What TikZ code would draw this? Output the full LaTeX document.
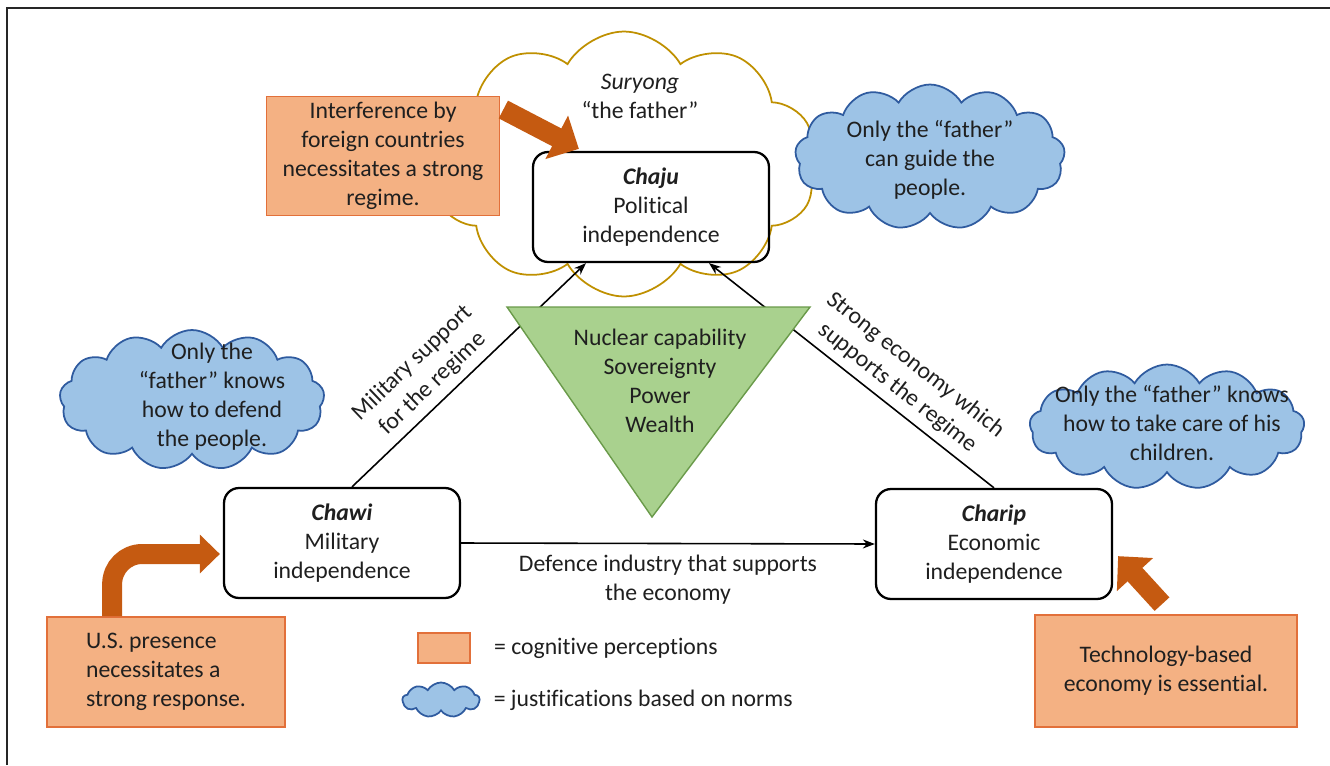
\documentclass[tikz,border=0pt]{standalone}
\usepackage{fontspec}
\setmainfont{Carlito}[Ligatures=NoCommon]
\usepackage{xcolor}
\usetikzlibrary{shapes.symbols, arrows.meta, positioning, calc}
\definecolor{percfill}{HTML}{F4B183}
\definecolor{percdraw}{HTML}{E2703A}
\definecolor{percarrow}{HTML}{C55A11}
\definecolor{normfill}{HTML}{9DC3E6}
\definecolor{normdraw}{HTML}{2F5B9F}
\definecolor{fathergold}{HTML}{BF9000}
\definecolor{corefill}{HTML}{A9D18E}
\definecolor{coredraw}{HTML}{6A9A4A}
\definecolor{ink}{HTML}{1F1F1F}
\newcommand{\diagfont}{\fontsize{13.5}{16.5}\selectfont}
\tikzset{
  indep/.style={rectangle, draw, line width=1.3pt, rounded corners=0.3cm,
                minimum width=4.72cm, minimum height=2.2cm, align=center,
                text=ink, font=\diagfont},
  percbox/.style={rectangle, draw=percdraw, line width=1pt, fill=percfill,
                  align=center, text=ink, font=\diagfont},
  normcloud/.style={cloud, cloud puffs=13, cloud puff arc=120, cloud ignores aspect,
                    draw=normdraw, line width=1pt, fill=normfill, inner sep=0pt},
  fathercloud/.style={cloud, cloud puffs=10, cloud puff arc=120, cloud ignores aspect,
                      draw=fathergold, line width=1pt, fill=white, inner sep=0pt},
  cloudtext/.style={align=center, text=ink, font=\diagfont},
  link/.style={-{Stealth[length=2.4mm]}, line width=0.9pt},
  blockarrow/.style={draw=percarrow, line width=0.4cm,
                     -{Triangle[length=0.5cm, width=0.95cm]}},
}

\begin{document}
\begin{tikzpicture}[x=0.02cm, y=-0.02cm]
  \useasboundingbox (0,0) rectangle (1330,765);
  % frame
  \draw[line width=1.1pt, black!85] (7,765) -- (7,8) -- (1330,8);

  % Suryong cloud
  \node (father) at (624,164) [fathercloud, minimum width=7.7cm, minimum height=5.3cm] {};
  \node (fathertxt) at (640,96) [cloudtext] {\textit{Suryong}\\“the father”};

  % Three independences
  \node (chaju) at (651,207) [indep] {\textbf{\textit{Chaju}}\\Political\\independence};
  \node (chawi) at (342,543) [indep] {\textbf{\textit{Chawi}}\\Military\\independence};
  \node (charip) at (994,544) [indep] {\textbf{\textit{Charip}}\\Economic\\independence};

  % Links
  \draw[link] ($(chawi.north)+(10,0)$) -- node[sloped, pos=0.4, above=1pt, cloudtext]
    {Military support\\for the regime} ($(chaju.south)+(-65,0)$);
  \draw[link] (charip.north) -- node[sloped, pos=0.38, above=1pt, cloudtext]
    {Strong economy which\\supports the regime} ($(chaju.south)+(58,0)$);
  \draw[link] (chawi.east) -- node[below=3pt, cloudtext]
    {Defence industry that supports\\the economy} (charip.west);

  % Core triangle
  \draw[fill=corefill, draw=coredraw, line width=0.8pt] (507,307) -- (810,307) -- (652,517) -- cycle;
  \node (core) at (660,381) [cloudtext] {Nuclear capability\\Sovereignty\\Power\\Wealth};

  % Norm clouds
  \node (guide) at (930,157) [normcloud, minimum width=5.4cm, minimum height=2.9cm] {};
  \node (guidetxt) at (930,160) [cloudtext] {Only the “father”\\can guide the\\people.};
  \node (defend) at (192,400) [normcloud, minimum width=5.3cm, minimum height=2.8cm] {};
  \node (defendtxt) at (212,397) [cloudtext] {Only the\\“father” knows\\how to defend\\the people.};
  \node (care) at (1167,427) [normcloud, minimum width=5.5cm, minimum height=2.5cm] {};
  \node (caretxt) at (1172,423) [cloudtext] {Only the “father” knows\\how to take care of his\\children.};

  % Cognitive perceptions
  \node (interf) at (383,156) [percbox, minimum width=4.66cm, minimum height=2.36cm]
    {Interference by\\foreign countries\\necessitates a strong\\regime.};
  \node (us) at (166,672) [percbox, align=left, minimum width=4.76cm,
    minimum height=2.2cm] {U.S. presence\\necessitates a\\strong response.};
  \node (tech) at (1166,671) [percbox, minimum width=5.24cm, minimum height=2.24cm]
    {Technology-based\\economy is essential.};

  \draw[blockarrow] ($(interf.north east)+(3,14)$) -- ($(chaju.north west)+(47,-2)$);
  \draw[blockarrow, rounded corners=0.6cm, -{Triangle[length=0.4cm, width=0.75cm]}]
    ($(us.north west)+(66,0)$) |- ($(chawi.west)+(-3,11)$);
  \draw[blockarrow] ($(tech.north)+(-4,-10)$) -- ($(charip.south east)+(5,-44)$);

  % Legend
  \node (legrect) at (444,648) [percbox, minimum width=1.04cm, minimum height=0.6cm] {};
  \node (legperc) [right=0.34cm of legrect, cloudtext] {= cognitive perceptions};
  \node (legcloud) at (441,700) [normcloud, cloud puffs=9, minimum width=1.54cm, minimum height=0.7cm] {};
  \node (legnorm) [right=0.14cm of legcloud, cloudtext] {= justifications based on norms};
\end{tikzpicture}
\end{document}
